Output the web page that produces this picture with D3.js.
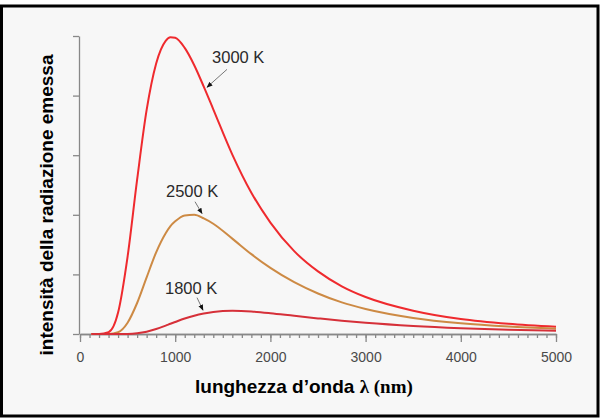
<!DOCTYPE html>
<html>
<head>
<meta charset="utf-8">
<script src="https://cdn.jsdelivr.net/npm/d3@7"></script>
<style>
  body { margin: 0; background: #ffffff; }
  svg { display: block; }
</style>
</head>
<body>
<div id="chart"></div>
<script>
// wavelengths (nm) and intensities (1 unit = one y tick)
const wavelengths = [120, 200, 300, 400, 500, 600, 700, 800, 900, 950, 1000, 1100, 1200, 1300, 1400,
                     1600, 1800, 2000, 2250, 2500, 2750, 3000, 3500, 4000, 4500, 5000];
const values3000 = [0, 0, 0.03, 0.36, 1.30, 2.59, 3.76, 4.54, 4.92, 4.98, 4.97, 4.80, 4.51, 4.15, 3.77,
                    3.01, 2.37, 1.87, 1.39, 1.05, 0.80, 0.62, 0.39, 0.25, 0.17, 0.12];
const values2500 = [0, 0, 0, 0.03, 0.19, 0.52, 0.95, 1.37, 1.69, 1.81, 1.89, 1.99, 2.00, 1.94, 1.85,
                    1.60, 1.34, 1.11, 0.87, 0.68, 0.53, 0.42, 0.27, 0.18, 0.125, 0.09];
const values1800 = [0, 0, 0, 0, 0.002, 0.013, 0.039, 0.083, 0.140, 0.171, 0.201, 0.259, 0.307, 0.343, 0.369,
                    0.389, 0.378, 0.350, 0.305, 0.262, 0.222, 0.188, 0.135, 0.098, 0.072, 0.055];
const seriesNames = ["3000 K", "2500 K", "1800 K"];
const xTicks = [0, 1000, 2000, 3000, 4000, 5000];
const yTicks = [0, 1, 2, 3, 4, 5];

const width = 600, height = 419;
const svg = d3.select("#chart").append("svg")
    .attr("width", width)
    .attr("height", height);

// grey panel with black frame
svg.append("rect")
    .attr("x", 1.5).attr("y", 6)
    .attr("width", 596.5).attr("height", 410)
    .style("fill", "#f7f7f7")
    .style("stroke", "#000")
    .style("stroke-width", 3);

let x = d3.scaleLinear().domain([0, 5000]).range([80, 556]);
let y = d3.scaleLinear().domain([0, 5]).range([334, 36]);

// x axis: minor ticks every 100, major every 1000
let minor = d3.range(0, 5001, 100);
svg.append("g")
    .attr("transform", "translate(0,334)")
    .call(d3.axisBottom(x).tickValues(minor).tickSize(4).tickSizeOuter(0).tickFormat(""))
    .call(g => g.selectAll("line, path").style("stroke", "#888").style("stroke-width", 1.3));

let xAxis = svg.append("g")
    .attr("transform", "translate(0,334)")
    .call(d3.axisBottom(x).tickValues(xTicks).tickSize(8).tickSizeOuter(0).tickPadding(10)
        .tickFormat(d3.format("d")));
xAxis.selectAll("line, path").style("stroke", "#888").style("stroke-width", 1.3);
xAxis.selectAll("text")
    .style("font-family", "'Liberation Sans', Arial, sans-serif")
    .style("font-size", "14px")
    .style("fill", "#4a4a4a");

// y axis, no labels
let yAxis = svg.append("g")
    .attr("transform", "translate(79,0)")
    .call(d3.axisLeft(y).tickValues(yTicks).tickSize(6).tickSizeOuter(0).tickFormat(""));
yAxis.selectAll("line, path").style("stroke", "#888").style("stroke-width", 1.3);

// curves
let series = [
    {name: seriesNames[0], values: values3000, color: "#ef2a2e"},
    {name: seriesNames[1], values: values2500, color: "#cd8a44"},
    {name: seriesNames[2], values: values1800, color: "#d63039"}
];
let line = d3.line()
    .x(d => x(d[0]))
    .y(d => y(d[1]))
    .curve(d3.curveMonotoneX);

svg.append("g").selectAll("path")
    .data(series)
    .enter()
    .append("path")
    .attr("d", s => line(wavelengths.map((w, i) => [w, s.values[i]])))
    .style("fill", "none")
    .style("stroke", s => s.color)
    .style("stroke-width", 2);

// arrow annotations (label anchor, arrow start, arrow tip, in data units)
svg.append("defs").append("marker")
    .attr("id", "head")
    .attr("viewBox", "0 0 10 10")
    .attr("refX", 9).attr("refY", 5)
    .attr("markerWidth", 6).attr("markerHeight", 6)
    .attr("orient", "auto")
    .append("path")
    .attr("d", "M0,1 L10,5 L0,9 Z")
    .style("fill", "#111");

let notes = [
    {text: seriesNames[0], lx: 1387, ly: 4.55, x1: 1544, y1: 4.44, x2: 1334, y2: 4.14},
    {text: seriesNames[1], lx: 903, ly: 2.30, x1: 1208, y1: 2.22, x2: 1282, y2: 2.02},
    {text: seriesNames[2], lx: 893, ly: 0.67, x1: 1229, y1: 0.61, x2: 1292, y2: 0.40}
];
let ng = svg.append("g");
ng.selectAll("line")
    .data(notes)
    .enter()
    .append("line")
    .attr("x1", d => x(d.x1)).attr("y1", d => y(d.y1))
    .attr("x2", d => x(d.x2)).attr("y2", d => y(d.y2))
    .attr("marker-end", "url(#head)")
    .style("stroke", "#777")
    .style("stroke-width", 1);
ng.selectAll("text")
    .data(notes)
    .enter()
    .append("text")
    .attr("x", d => x(d.lx))
    .attr("y", d => y(d.ly))
    .style("font-family", "'Liberation Sans', Arial, sans-serif")
    .style("font-size", "16.5px")
    .style("fill", "#2a2a2a")
    .text(d => d.text);

// axis titles
svg.append("text")
    .attr("transform", "translate(53,205) rotate(-90)")
    .attr("text-anchor", "middle")
    .style("font-family", "'Liberation Sans', Arial, sans-serif")
    .style("font-weight", "bold")
    .style("font-size", "19px")
    .style("fill", "#000")
    .text("intensità della radiazione emessa");

let xt = svg.append("text")
    .attr("x", 195)
    .attr("y", 393)
    .style("font-weight", "bold")
    .style("font-size", "19px")
    .style("fill", "#000");
xt.append("tspan")
    .style("font-family", "'Liberation Sans', Arial, sans-serif")
    .text("lunghezza d’onda ");
xt.append("tspan")
    .style("font-family", "'Liberation Serif', 'DejaVu Serif', 'Times New Roman', serif")
    .text("λ (nm)");
</script>
</body>
</html>
